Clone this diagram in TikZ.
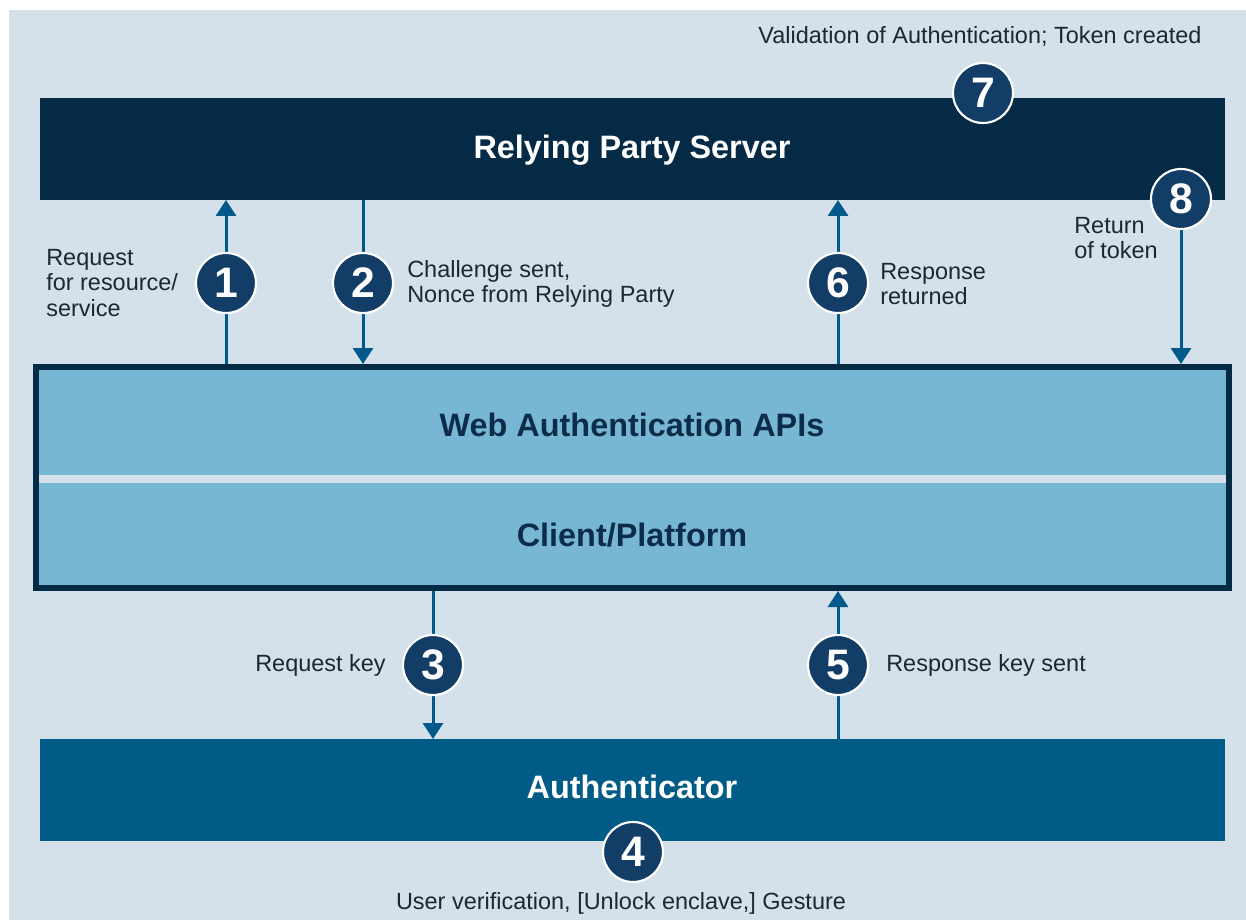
\documentclass[tikz,border=0pt]{standalone}
\usepackage{fontspec}
\setmainfont{Liberation Sans}
\usetikzlibrary{arrows.meta}
\definecolor{bgblue}{HTML}{D4E1EB}
\definecolor{navy}{HTML}{042A45}
\definecolor{webfill}{HTML}{78B7D4}
\definecolor{authblue}{HTML}{005C87}
\definecolor{circfill}{HTML}{123D66}
\definecolor{arrblue}{HTML}{00598A}
\definecolor{txt}{HTML}{1C2733}
\definecolor{webtxt}{HTML}{0B2D4A}
\pgfdeclarelayer{bglayer}
\pgfdeclarelayer{midlayer}
\pgfsetlayers{bglayer,midlayer,main}
\tikzset{
  box/.style={rectangle, inner sep=0pt, outer sep=0pt, draw=none},
  num/.style={circle, minimum size=45pt, inner sep=0pt, fill=circfill, draw=white, line width=1.6pt, text=white, font=\fontsize{32}{32}\selectfont\bfseries},
  lbl/.style={text=txt, font=\fontsize{17.6}{19.2}\selectfont, inner sep=0pt, align=left},
  title/.style={font=\fontsize{24.3}{26}\selectfont\bfseries},
  arr/.style={draw=arrblue, line width=2.25pt, -{Triangle[width=15pt,length=12pt]}}
}
\begin{document}
\begin{tikzpicture}[x=0.75pt,y=-0.75pt]
\useasboundingbox (0,0) rectangle (1246,920);
\begin{pgfonlayer}{bglayer}
\fill[white] (0,0) rectangle (1246,920);
\fill[bgblue] (9,10) rectangle (1246,920);
\end{pgfonlayer}
% boxes
\node[box, fill=navy, minimum width=888.75pt, minimum height=76.5pt] (rp) at (632.5,149) {};
\node[title, text=white] (rpt) at (632,150) {Relying Party Server};
\node[box, fill=webfill, draw=navy, line width=4.5pt, outer sep=2.25pt, minimum width=894.75pt, minimum height=165.75pt] (web) at (632.5,477.5) {};
\fill[bgblue] (39,474.5) rectangle (1226,482.5);
\node[title, text=webtxt] (webt) at (632,425) {Web Authentication APIs};
\node[title, text=webtxt] (clt) at (632,535) {Client/Platform};
\node[box, fill=authblue, minimum width=888.75pt, minimum height=76.5pt] (auth) at (632.5,790) {};
\node[title, text=white] (autht) at (632,787) {Authenticator};
% circles
\node[num] (c1) at (226,283) {1};
\node[num] (c2) at (363,283) {2};
\node[num] (c6) at (838,283) {6};
\node[num] (c7) at (983,93) {7};
\node[num] (c8) at (1181,199) {8};
\node[num] (c3) at (433,665) {3};
\node[num] (c5) at (838,665) {5};
\node[num] (c4) at (633,852) {4};
% arrows
\begin{pgfonlayer}{midlayer}
\draw[arr] (web.north -| c1) -- (rp.south -| c1);
\draw[arr] (rp.south -| c2) -- (web.north -| c2);
\draw[arr] (web.north -| c6) -- (rp.south -| c6);
\draw[arr] (c8.south) -- (web.north -| c8);
\draw[arr] (web.south -| c3) -- (auth.north -| c3);
\draw[arr] (auth.north -| c5) -- (web.south -| c5);
\end{pgfonlayer}
% labels
\node[lbl, anchor=center] (l7) at (980,37) {Validation of Authentication; Token created};
\node[lbl, anchor=west] (l1) at (46,283) {Request\\for resource/\\service};
\node[lbl, anchor=west] (l2) at (407,284) {Challenge sent,\\Nonce from Relying Party};
\node[lbl, anchor=west] (l6) at (880,284) {Response\\returned};
\node[lbl, anchor=west] (l8) at (1074,238) {Return\\of token};
\node[lbl, anchor=east] (l3) at (386,665) {Request key};
\node[lbl, anchor=west] (l5) at (886,665) {Response key sent};
\node[lbl, anchor=center] (l4) at (621,903) {User verification, [Unlock enclave,] Gesture};
\end{tikzpicture}
\end{document}
